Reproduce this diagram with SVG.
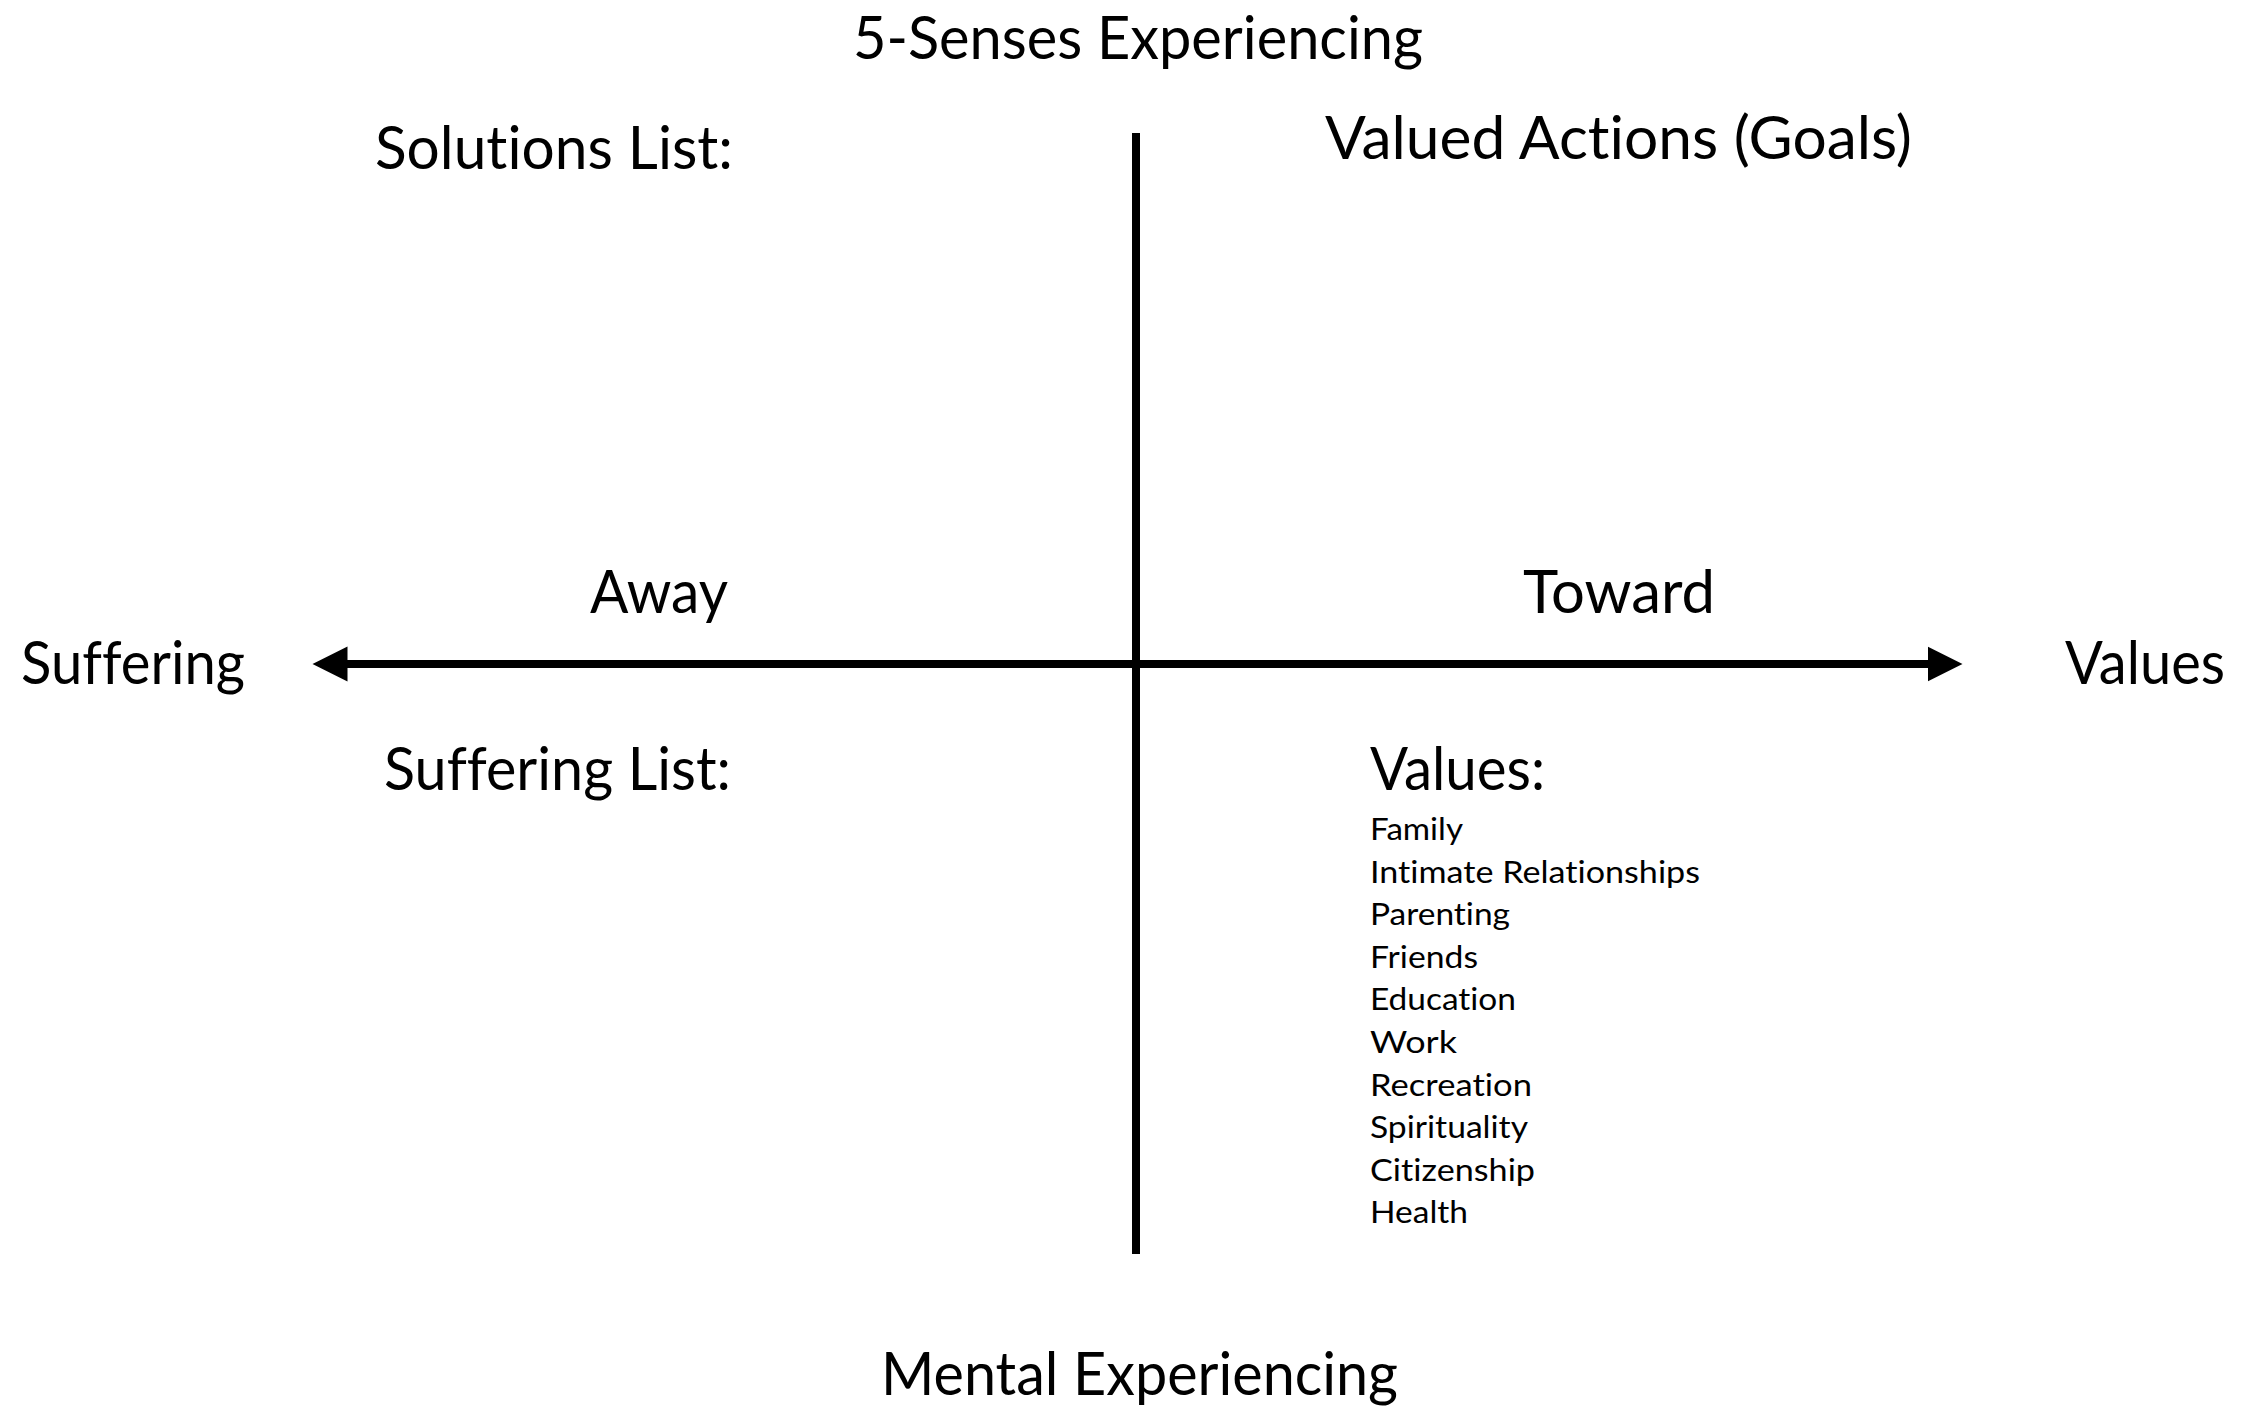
<svg xmlns="http://www.w3.org/2000/svg" width="2247" height="1409" viewBox="0 0 2247 1409">
  <style>
    text { font-family: "Lato", "Open Sans", "Liberation Sans", sans-serif; fill: #000; font-variant-ligatures: none; font-feature-settings: "liga" 0, "clig" 0, "dlig" 0; }
    .big { font-size: 60px; }
    .small { font-size: 31px; }
    .axis { stroke: #000; stroke-width: 8; fill: none; }
  </style>
  <defs>
    <marker id="ah" markerUnits="userSpaceOnUse" markerWidth="36" markerHeight="36" viewBox="0 -18 36 36" refX="0.5" refY="0" orient="auto-start-reverse">
      <path d="M0,-17.5 L35,0 L0,17.5 z" fill="#000"/>
    </marker>
  </defs>
  <rect x="0" y="0" width="2247" height="1409" fill="#fff"/>

  <g id="connectors">
    <line class="axis" x1="1136" y1="133" x2="1136" y2="1254"/>
    <line class="axis" x1="347" y1="664" x2="1928" y2="664" marker-start="url(#ah)" marker-end="url(#ah)"/>
  </g>

  <g id="top-label"><text class="big" x="853" y="59" textLength="570" lengthAdjust="spacingAndGlyphs">5-Senses Experiencing</text></g>
  <g id="bottom-label"><text class="big" x="881" y="1395" textLength="517" lengthAdjust="spacingAndGlyphs">Mental Experiencing</text></g>
  <g id="left-label"><text class="big" x="21" y="684" textLength="224" lengthAdjust="spacingAndGlyphs">Suffering</text></g>
  <g id="right-label"><text class="big" x="2065" y="684" textLength="160" lengthAdjust="spacingAndGlyphs">Values</text></g>
  <g id="away"><text class="big" x="590" y="613" textLength="138" lengthAdjust="spacingAndGlyphs">Away</text></g>
  <g id="toward"><text class="big" x="1523" y="613" textLength="192" lengthAdjust="spacingAndGlyphs">Toward</text></g>
  <g id="solutions-list"><text class="big" x="375" y="169" textLength="358" lengthAdjust="spacingAndGlyphs">Solutions List:</text></g>
  <g id="valued-actions"><text class="big" x="1325" y="159" textLength="587" lengthAdjust="spacingAndGlyphs">Valued Actions (Goals)</text></g>
  <g id="suffering-list"><text class="big" x="384" y="790" textLength="347" lengthAdjust="spacingAndGlyphs">Suffering List:</text></g>
  <g id="values-list">
    <text class="big" x="1370" y="790" textLength="175" lengthAdjust="spacingAndGlyphs">Values:</text>
    <text class="small" x="1370" y="840" textLength="93" lengthAdjust="spacingAndGlyphs">Family</text>
    <text class="small" x="1370" y="882.6" textLength="330" lengthAdjust="spacingAndGlyphs">Intimate Relationships</text>
    <text class="small" x="1370" y="925.2" textLength="140" lengthAdjust="spacingAndGlyphs">Parenting</text>
    <text class="small" x="1370" y="967.8" textLength="108" lengthAdjust="spacingAndGlyphs">Friends</text>
    <text class="small" x="1370" y="1010.4" textLength="146" lengthAdjust="spacingAndGlyphs">Education</text>
    <text class="small" x="1370" y="1053" textLength="87" lengthAdjust="spacingAndGlyphs">Work</text>
    <text class="small" x="1370" y="1095.6" textLength="162" lengthAdjust="spacingAndGlyphs">Recreation</text>
    <text class="small" x="1370" y="1138.2" textLength="158" lengthAdjust="spacingAndGlyphs">Spirituality</text>
    <text class="small" x="1370" y="1180.8" textLength="165" lengthAdjust="spacingAndGlyphs">Citizenship</text>
    <text class="small" x="1370" y="1223.4" textLength="98" lengthAdjust="spacingAndGlyphs">Health</text>
  </g>
</svg>
